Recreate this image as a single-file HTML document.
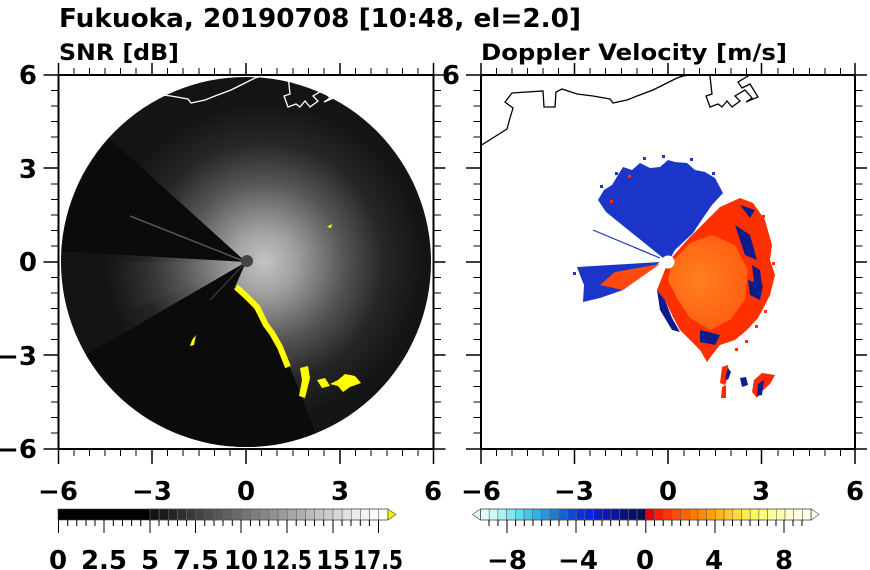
<!DOCTYPE html>
<html><head><meta charset="utf-8"><style>
html,body{margin:0;padding:0;background:#fff;}
svg{display:block;}
text{font-family:"DejaVu Sans","Liberation Sans",sans-serif;font-weight:bold;fill:#000;}
</style></head><body>
<svg width="870" height="570" viewBox="0 0 870 570" xmlns="http://www.w3.org/2000/svg">
<defs>
<radialGradient id="glow" cx="264" cy="262" r="160" gradientUnits="userSpaceOnUse">
<stop offset="0" stop-color="#c4c4c4"/>
<stop offset="0.2" stop-color="#a0a0a0"/>
<stop offset="0.5" stop-color="#555"/>
<stop offset="0.75" stop-color="#262626"/>
<stop offset="1" stop-color="#141414"/>
</radialGradient>
<radialGradient id="wgl" cx="246" cy="262" r="140" gradientUnits="userSpaceOnUse">
<stop offset="0" stop-color="#aaa"/>
<stop offset="0.6" stop-color="#444"/>
<stop offset="1" stop-color="#141414"/>
</radialGradient>
<radialGradient id="org" cx="700" cy="280" r="80" gradientUnits="userSpaceOnUse">
<stop offset="0" stop-color="#ff8020"/>
<stop offset="0.6" stop-color="#ff6010"/>
<stop offset="1" stop-color="#ff3a00"/>
</radialGradient>
<clipPath id="cl"><rect x="58" y="75" width="375" height="374"/></clipPath>
<clipPath id="cr"><rect x="481" y="75" width="374" height="374"/></clipPath>
<clipPath id="circ"><circle cx="246" cy="262" r="185"/></clipPath>
</defs>

<text x="59" y="27" font-size="26" textLength="522" lengthAdjust="spacingAndGlyphs">Fukuoka, 20190708 [10:48, el=2.0]</text>
<text x="59" y="60" font-size="22" textLength="120" lengthAdjust="spacingAndGlyphs">SNR [dB]</text>
<text x="481" y="60" font-size="22" textLength="306" lengthAdjust="spacingAndGlyphs">Doppler Velocity [m/s]</text>

<!-- LEFT PANEL -->
<g clip-path="url(#cl)">
<circle cx="246" cy="262" r="185" fill="#141414"/>
<g clip-path="url(#circ)">
<circle cx="264" cy="262" r="160" fill="url(#glow)"/>
<polygon points="246,262 60,262 75,335" fill="url(#wgl)" opacity="0.6"/>
<polygon points="246,262 80,112 40,250" fill="#0b0b0b"/>
<line x1="246" y1="262" x2="130" y2="216" stroke="#555" stroke-width="1.5"/>
<polygon points="246,262 60,370 100,480 330,470 290,367 257,307 235,287" fill="#0b0b0b"/>
<line x1="246" y1="262" x2="210" y2="300" stroke="#444" stroke-width="1"/>
<polyline points="236,287 245,295 257,307 266,325 272,333 280,347 288,367" fill="none" stroke="#ffff00" stroke-width="6" stroke-linejoin="round"/>
<polygon points="300,368 308,366 310,378 305,398 299,396 302,380" fill="#ffff00"/>
<polygon points="317,380 325,378 330,386 322,388" fill="#ffff00"/>
<polygon points="330,384 338,380 345,374 355,376 361,383 350,387 343,392 338,386" fill="#ffff00"/>
<polygon points="192,340 196,335 194,345 190,346" fill="#ffff00"/>
<polygon points="327,227 332,224 331,228" fill="#ffff00"/>
<circle cx="247" cy="261" r="6" fill="#444"/>
</g>
<g transform="translate(-422,0)" fill="none" stroke="#fff" stroke-width="1.3">
<polyline points="480,146 507,129 510,118 513,108 505,102 512,93 543,91 544,107 555,107 556,92 562,89 577,94 593,96 610,99 613,103 627,100 637,96 653,90 663,85 677,78 683,76 690,75"/>
<polyline points="710,76 712,94 706,96 710,107 718,104 722,107 727,101 732,107 740,101 735,96 745,90 752,98 746,102 758,97 750,84 742,88 738,82 750,75"/>
</g>
</g>

<!-- RIGHT PANEL -->
<g clip-path="url(#cr)">
<g fill="none" stroke="#000" stroke-width="1.3">
<polyline points="480,146 507,129 510,118 513,108 505,102 512,93 543,91 544,107 555,107 556,92 562,89 577,94 593,96 610,99 613,103 627,100 637,96 653,90 663,85 677,78 683,76 690,75"/>
<polyline points="710,76 712,94 706,96 710,107 718,104 722,107 727,101 732,107 740,101 735,96 745,90 752,98 746,102 758,97 750,84 742,88 738,82 750,75"/>
</g>
<polygon points="668,262 606,212 598,200 604,190 612,185 618,175 623,167 632,170 640,163 650,168 660,167 668,160 675,162 687,163 695,170 705,172 715,178 723,193 712,205 705,215 693,233 675,250" fill="#1a35c8"/>
<polygon points="668,262 690,237 710,222 730,205 725,230 700,245" fill="#0c1c8a"/>
<polygon points="668,262 690,237 720,207 740,198 753,203 765,220 772,245 770,260 775,275 770,295 765,305 758,318 747,330 735,340 720,345 712,355 707,362 700,350 693,343 680,330 673,317 665,300 657,290" fill="#ff3000"/>
<polygon points="672,262 690,243 712,235 735,245 748,270 745,300 730,320 710,330 690,318 678,300 668,280" fill="url(#org)"/>
<polygon points="735,225 750,235 757,260 745,255" fill="#0c1c8a"/>
<polygon points="752,265 760,270 762,285 754,282" fill="#0c1c8a"/>
<polygon points="748,280 763,285 760,300 750,295" fill="#0c1c8a"/>
<polygon points="657,290 665,300 672,318 680,332 672,330 660,310" fill="#0c1c8a"/>
<polygon points="700,330 720,335 715,345 700,342" fill="#0c1c8a"/>
<polygon points="740,205 755,210 750,218" fill="#0c1c8a"/>
<g fill="#ff3000">
<rect x="762" y="215" width="3" height="3"/><rect x="768" y="240" width="3" height="3"/><rect x="772" y="262" width="3" height="3"/><rect x="764" y="310" width="3" height="3"/><rect x="755" y="325" width="3" height="3"/><rect x="745" y="340" width="3" height="3"/><rect x="735" y="348" width="3" height="3"/><rect x="610" y="200" width="3" height="3"/><rect x="628" y="175" width="3" height="3"/>
</g>
<g fill="#1a35c8">
<rect x="600" y="185" width="3" height="3"/><rect x="615" y="172" width="3" height="3"/><rect x="643" y="157" width="3" height="3"/><rect x="662" y="155" width="3" height="3"/><rect x="690" y="158" width="3" height="3"/><rect x="712" y="172" width="3" height="3"/><rect x="573" y="272" width="3" height="3"/>
</g>
<polygon points="660,262 577,267 580,275 584,285 583,302 600,298 623,290" fill="#1a35c8"/>
<polygon points="660,264 615,272 600,285 623,290" fill="#ff4a10"/>
<line x1="593" y1="230" x2="660" y2="258" stroke="#1a35c8" stroke-width="1.2"/>
<circle cx="668" cy="262" r="6.5" fill="#fff"/>
<polygon points="722,367 728,365 729,375 725,385 720,383" fill="#ff2a00"/>
<polygon points="722,387 726,385 726,398 721,398" fill="#ff2a00"/>
<polygon points="740,378 746,377 748,385 742,387" fill="#0c1c8a"/>
<polygon points="754,380 762,373 775,375 770,384 760,393 757,398 752,392" fill="#ff2a00"/>
<polygon points="758,384 764,380 762,395 757,396" fill="#0c1c8a"/>
<polygon points="728,368 731,372 728,380 725,378" fill="#0c1c8a"/>
</g>

<g stroke="#000" fill="none">
<rect x="58.5" y="75" width="375" height="374" stroke-width="2"/>
<rect x="481" y="75" width="374" height="374" stroke-width="2"/>
</g>
<g stroke="#000" stroke-width="1.5">
<path d="M58.5 449v15M152 449v15M246 449v15M340 449v15M433.5 449v15
M58.5 75v-12M152 75v-12M246 75v-12M340 75v-12M433.5 75v-12
M58.5 75h-15M58.5 168h-15M58.5 262h-15M58.5 355h-15M58.5 449h-15
M433.5 75h12M433.5 168h12M433.5 262h12M433.5 355h12M433.5 449h12"/>
<path d="M481 449v15M574.5 449v15M668 449v15M761.5 449v15M855 449v15
M481 75v-12M574.5 75v-12M668 75v-12M761.5 75v-12M855 75v-12
M481 75h-15M481 168h-15M481 262h-15M481 355h-15M481 449h-15
M855 75h12M855 168h12M855 262h12M855 355h12M855 449h12"/>
</g>
<g stroke="#000" stroke-width="1">
<path d="
M74 449v7M89.5 449v7M105 449v7M120.5 449v7M136 449v7M167.5 449v7M183 449v7M199 449v7M214.5 449v7M230 449v7M261.5 449v7M277 449v7M293 449v7M308.5 449v7M324 449v7M355.5 449v7M371 449v7M387 449v7M402.5 449v7M418 449v7
M74 75v-7M89.5 75v-7M105 75v-7M120.5 75v-7M136 75v-7M167.5 75v-7M183 75v-7M199 75v-7M214.5 75v-7M230 75v-7M261.5 75v-7M277 75v-7M293 75v-7M308.5 75v-7M324 75v-7M355.5 75v-7M371 75v-7M387 75v-7M402.5 75v-7M418 75v-7
M58 90.5h-7M58 106h-7M58 121.5h-7M58 137h-7M58 152.5h-7M58 184h-7M58 199.5h-7M58 215h-7M58 230.5h-7M58 246h-7M58 277.5h-7M58 293h-7M58 308.5h-7M58 324h-7M58 339.5h-7M58 371h-7M58 386.5h-7M58 402h-7M58 417.5h-7M58 433h-7
M434 90.5h7M434 106h7M434 121.5h7M434 137h7M434 152.5h7M434 184h7M434 199.5h7M434 215h7M434 230.5h7M434 246h7M434 277.5h7M434 293h7M434 308.5h7M434 324h7M434 339.5h7M434 371h7M434 386.5h7M434 402h7M434 417.5h7M434 433h7"/>
<path transform="translate(422.5,0)" d="
M74 449v7M89.5 449v7M105 449v7M120.5 449v7M136 449v7M167.5 449v7M183 449v7M199 449v7M214.5 449v7M230 449v7M261.5 449v7M277 449v7M293 449v7M308.5 449v7M324 449v7M355.5 449v7M371 449v7M387 449v7M402.5 449v7M418 449v7
M74 75v-7M89.5 75v-7M105 75v-7M120.5 75v-7M136 75v-7M167.5 75v-7M183 75v-7M199 75v-7M214.5 75v-7M230 75v-7M261.5 75v-7M277 75v-7M293 75v-7M308.5 75v-7M324 75v-7M355.5 75v-7M371 75v-7M387 75v-7M402.5 75v-7M418 75v-7
M58 90.5h-7M58 106h-7M58 121.5h-7M58 137h-7M58 152.5h-7M58 184h-7M58 199.5h-7M58 215h-7M58 230.5h-7M58 246h-7M58 277.5h-7M58 293h-7M58 308.5h-7M58 324h-7M58 339.5h-7M58 371h-7M58 386.5h-7M58 402h-7M58 417.5h-7M58 433h-7
M433 90.5h7M433 106h7M433 121.5h7M433 137h7M433 152.5h7M433 184h7M433 199.5h7M433 215h7M433 230.5h7M433 246h7M433 277.5h7M433 293h7M433 308.5h7M433 324h7M433 339.5h7M433 371h7M433 386.5h7M433 402h7M433 417.5h7M433 433h7"/>
</g>

<g font-size="26" text-anchor="end">
<text x="37" y="84">6</text>
<text x="37" y="178">3</text>
<text x="37" y="271">0</text>
<text x="37" y="365">−3</text>
<text x="37" y="458">−6</text>
<text x="460" y="84">6</text>
</g>
<g font-size="26" text-anchor="middle">
<text x="58" y="500">−6</text><text x="152" y="500">−3</text><text x="246" y="500">0</text><text x="340" y="500">3</text><text x="433" y="500">6</text>
<text x="481" y="500">−6</text><text x="574" y="500">−3</text><text x="668" y="500">0</text><text x="761" y="500">3</text><text x="855" y="500">6</text>
</g>

<g stroke="#666" stroke-width="0.6">
<rect x="58" y="509" width="92" height="11" fill="#000" stroke="none"/>
<rect x="150" y="509" width="9.15" height="11" fill="#111"/><rect x="159.15" y="509" width="9.15" height="11" fill="#1a1a1a"/>
<rect x="168.3" y="509" width="9.15" height="11" fill="#242424"/><rect x="177.45" y="509" width="9.15" height="11" fill="#2e2e2e"/>
<rect x="186.6" y="509" width="9.15" height="11" fill="#383838"/><rect x="195.75" y="509" width="9.15" height="11" fill="#424242"/>
<rect x="204.9" y="509" width="9.15" height="11" fill="#4c4c4c"/><rect x="214.05" y="509" width="9.15" height="11" fill="#565656"/>
<rect x="223.2" y="509" width="9.15" height="11" fill="#606060"/><rect x="232.35" y="509" width="9.15" height="11" fill="#6a6a6a"/>
<rect x="241.5" y="509" width="9.15" height="11" fill="#747474"/><rect x="250.65" y="509" width="9.15" height="11" fill="#7e7e7e"/>
<rect x="259.8" y="509" width="9.15" height="11" fill="#888"/><rect x="268.95" y="509" width="9.15" height="11" fill="#929292"/>
<rect x="278.1" y="509" width="9.15" height="11" fill="#9c9c9c"/><rect x="287.25" y="509" width="9.15" height="11" fill="#a6a6a6"/>
<rect x="296.4" y="509" width="9.15" height="11" fill="#b0b0b0"/><rect x="305.55" y="509" width="9.15" height="11" fill="#bababa"/>
<rect x="314.7" y="509" width="9.15" height="11" fill="#c4c4c4"/><rect x="323.85" y="509" width="9.15" height="11" fill="#cecece"/>
<rect x="333" y="509" width="9.15" height="11" fill="#d8d8d8"/><rect x="342.15" y="509" width="9.15" height="11" fill="#e2e2e2"/>
<rect x="351.3" y="509" width="9.15" height="11" fill="#ececec"/><rect x="360.45" y="509" width="9.15" height="11" fill="#f4f4f4"/>
<rect x="369.6" y="509" width="9.15" height="11" fill="#fafafa"/><rect x="378.75" y="509" width="9.15" height="11" fill="#fff"/>
<polygon points="387.9,509 396,514.5 387.9,520" fill="#ffee00" stroke="#444"/>
<rect x="58" y="509" width="329.9" height="11" fill="none" stroke="#444"/>
</g>
<g stroke="#000" stroke-width="1">
<path d="M58.5 520v13M104 520v13M150 520v13M195.5 520v13M241 520v13M287 520v13M333 520v13M378.5 520v13
M67.7 520v6M76.8 520v6M86 520v6M95 520v6M113.3 520v6M122.5 520v6M131.6 520v6M140.8 520v6M159 520v6M168.3 520v6M177.5 520v6M186.6 520v6M204.8 520v6M214 520v6M223 520v6M232.3 520v6M250.5 520v6M259.7 520v6M268.8 520v6M278 520v6M296.2 520v6M305.4 520v6M314.5 520v6M323.7 520v6M342 520v6M351 520v6M360.3 520v6M369.4 520v6"/>
</g>
<g font-size="26" text-anchor="middle">
<text x="58" y="569">0</text><text x="104" y="569">2.5</text><text x="150" y="569">5</text><text x="196" y="569">7.5</text>
<text x="241" y="569" textLength="34" lengthAdjust="spacingAndGlyphs">10</text>
<text x="287" y="569" textLength="50" lengthAdjust="spacingAndGlyphs">12.5</text>
<text x="333" y="569" textLength="34" lengthAdjust="spacingAndGlyphs">15</text>
<text x="378" y="569" textLength="50" lengthAdjust="spacingAndGlyphs">17.5</text>
</g>

<g stroke="#666" stroke-width="0.6">
<polygon points="480.5,509 472.5,514.5 480.5,520" fill="#e8ffff" stroke="#444"/>
<rect x="480.5" y="509" width="8.7" height="11" fill="#e0ffff"/><rect x="489.2" y="509" width="8.7" height="11" fill="#c8fafa"/>
<rect x="497.9" y="509" width="8.7" height="11" fill="#a8f2f4"/><rect x="506.6" y="509" width="8.7" height="11" fill="#80e8f0"/>
<rect x="515.3" y="509" width="8.7" height="11" fill="#5cdcec"/><rect x="524" y="509" width="8.7" height="11" fill="#40c8e8"/>
<rect x="532.7" y="509" width="8.7" height="11" fill="#30b0e4"/><rect x="541.4" y="509" width="8.7" height="11" fill="#2896e0"/>
<rect x="550.1" y="509" width="8.7" height="11" fill="#207ada"/><rect x="558.8" y="509" width="8.7" height="11" fill="#1860d6"/>
<rect x="567.5" y="509" width="8.7" height="11" fill="#1048d2"/><rect x="576.2" y="509" width="8.7" height="11" fill="#0a34d8"/>
<rect x="584.9" y="509" width="8.7" height="11" fill="#0a26e0"/><rect x="593.6" y="509" width="8.7" height="11" fill="#0a1cc8"/>
<rect x="602.3" y="509" width="8.7" height="11" fill="#0a18b0"/><rect x="611" y="509" width="8.7" height="11" fill="#0a1498"/>
<rect x="619.7" y="509" width="8.7" height="11" fill="#0a1080"/><rect x="628.4" y="509" width="8.7" height="11" fill="#0a0c6c"/>
<rect x="637.1" y="509" width="8.7" height="11" fill="#0a0a58"/>
<rect x="645.8" y="509" width="8.7" height="11" fill="#e80000"/><rect x="654.5" y="509" width="8.7" height="11" fill="#ff1a00"/>
<rect x="663.2" y="509" width="8.7" height="11" fill="#ff3400"/><rect x="671.9" y="509" width="8.7" height="11" fill="#ff4c00"/>
<rect x="680.6" y="509" width="8.7" height="11" fill="#ff6200"/><rect x="689.3" y="509" width="8.7" height="11" fill="#ff7800"/>
<rect x="698" y="509" width="8.7" height="11" fill="#ff8c00"/><rect x="706.7" y="509" width="8.7" height="11" fill="#ffa000"/>
<rect x="715.4" y="509" width="8.7" height="11" fill="#ffb420"/><rect x="724.1" y="509" width="8.7" height="11" fill="#ffc830"/>
<rect x="732.8" y="509" width="8.7" height="11" fill="#ffdc40"/><rect x="741.5" y="509" width="8.7" height="11" fill="#ffec50"/>
<rect x="750.2" y="509" width="8.7" height="11" fill="#fff860"/><rect x="758.9" y="509" width="8.7" height="11" fill="#ffff78"/>
<rect x="767.6" y="509" width="8.7" height="11" fill="#ffff98"/><rect x="776.3" y="509" width="8.7" height="11" fill="#ffffb0"/>
<rect x="785" y="509" width="8.7" height="11" fill="#ffffc8"/><rect x="793.7" y="509" width="8.7" height="11" fill="#ffffdc"/>
<rect x="802.4" y="509" width="8.7" height="11" fill="#fffff0"/>
<polygon points="811.1,509 819,514.5 811.1,520" fill="#fffff0" stroke="#444"/>
<rect x="480.5" y="509" width="330.6" height="11" fill="none" stroke="#444"/>
</g>
<g stroke="#000" stroke-width="1">
<path d="M507 520v13M576 520v13M645.8 520v13M715 520v13M784 520v13
M489 520v6M498 520v6M515.6 520v6M524.3 520v6M533 520v6M541.7 520v6M550.4 520v6M559 520v6M567.8 520v6M584.6 520v6M593.3 520v6M602 520v6M610.7 520v6M619.4 520v6M628 520v6M637 520v6M654.5 520v6M663.2 520v6M671.9 520v6M680.6 520v6M689.3 520v6M698 520v6M706.7 520v6M723.8 520v6M732.5 520v6M741.2 520v6M750 520v6M758.6 520v6M767.3 520v6M776 520v6M793 520v6M802 520v6"/>
</g>
<g font-size="26" text-anchor="middle">
<text x="507" y="569">−8</text><text x="578" y="569">−4</text><text x="645" y="569">0</text><text x="714" y="569">4</text><text x="784" y="569">8</text>
</g>
</svg>
</body></html>
